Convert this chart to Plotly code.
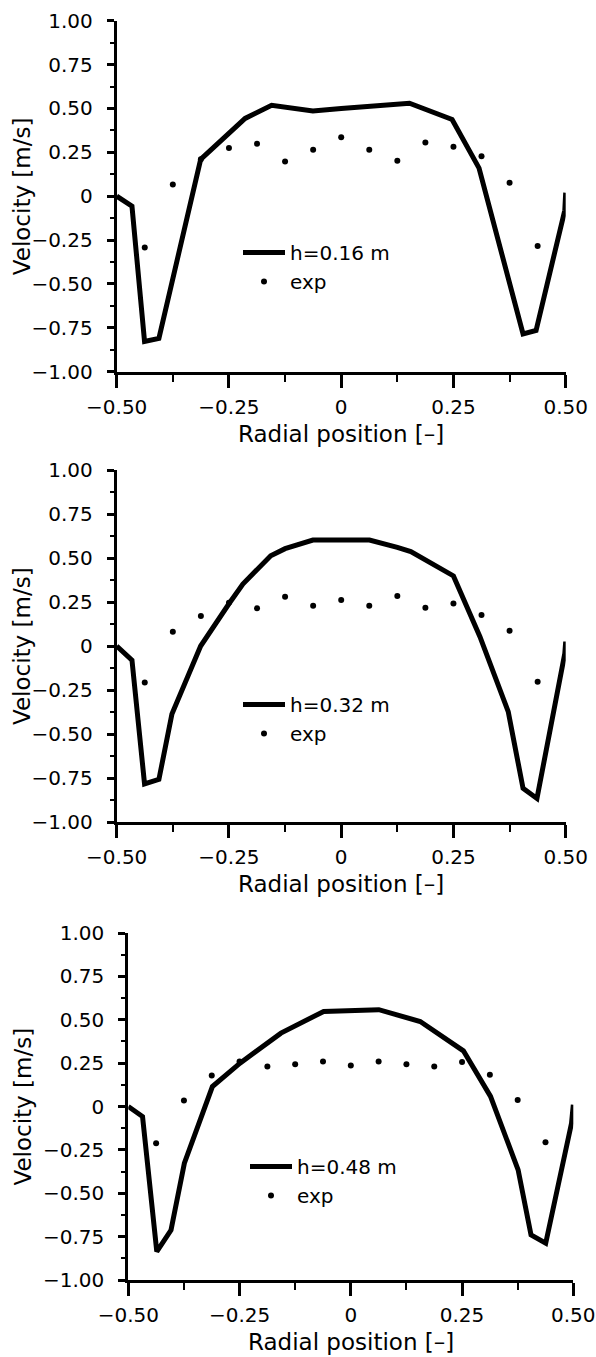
import plotly.graph_objects as go

W, H = 596, 1357

# ---------------- data ----------------
exp_x = [-0.4375, -0.375, -0.3125, -0.25, -0.1875, -0.125, -0.0625, 0.0,
         0.0625, 0.125, 0.1875, 0.25, 0.3125, 0.375, 0.4375]

sim1_x = [-0.5, -0.466, -0.438, -0.406, -0.313, -0.214, -0.155, -0.063, 0.0,
          0.063, 0.152, 0.247, 0.307, 0.405, 0.434, 0.498, 0.5]
sim1_y = [0.0, -0.057, -0.828, -0.81, 0.21, 0.443, 0.518, 0.485, 0.50,
          0.515, 0.53, 0.437, 0.16, -0.785, -0.765, -0.08, 0.02]
exp1_y = [-0.293, 0.066, 0.21, 0.274, 0.299, 0.198, 0.265, 0.336, 0.265,
          0.202, 0.306, 0.282, 0.227, 0.076, -0.284]

sim2_x = [-0.5, -0.466, -0.438, -0.406, -0.377, -0.313, -0.25, -0.219, -0.157,
          -0.125, -0.063, 0.0, 0.063, 0.125, 0.155, 0.25, 0.309, 0.372, 0.405,
          0.436, 0.498, 0.5]
sim2_y = [0.0, -0.08, -0.784, -0.758, -0.386, 0.0, 0.24, 0.352, 0.513,
          0.553, 0.602, 0.602, 0.602, 0.56, 0.536, 0.398, 0.053, -0.373, -0.809,
          -0.866, -0.042, 0.025]
exp2_y = [-0.208, 0.081, 0.170, 0.246, 0.214, 0.280, 0.229, 0.261, 0.229,
          0.284, 0.218, 0.242, 0.176, 0.087, -0.203]

sim3_x = [-0.5, -0.468, -0.436, -0.404, -0.374, -0.311, -0.249, -0.157, -0.061,
          0.063, 0.156, 0.253, 0.314, 0.376, 0.405, 0.438, 0.496, 0.5]
sim3_y = [0.0, -0.058, -0.836, -0.712, -0.327, 0.115, 0.25, 0.423, 0.548,
          0.558, 0.49, 0.321, 0.058, -0.365, -0.74, -0.788, -0.096, 0.01]
exp3_y = [-0.212, 0.035, 0.179, 0.26, 0.231, 0.244, 0.26, 0.237, 0.26,
          0.244, 0.231, 0.256, 0.183, 0.038, -0.206]

sim_names = ["h=0.16 m", "h=0.32 m", "h=0.48 m"]
exp_name = "exp"

x_tickvals = [-0.5, -0.25, 0.0, 0.25, 0.5]
x_ticktext = ["\u22120.50", "\u22120.25", "0", "0.25", "0.50"]
y_tickvals = [-1.0, -0.75, -0.5, -0.25, 0.0, 0.25, 0.5, 0.75, 1.0]
y_ticktext = ["\u22121.00", "\u22120.75", "\u22120.50", "\u22120.25", "0",
              "0.25", "0.50", "0.75", "1.00"]
x_minor = [-0.375, -0.125, 0.125, 0.375]
y_minor = [-0.875, -0.625, -0.375, -0.125, 0.125, 0.375, 0.625, 0.875]

x_title = "Radial position [\u2013]"
y_title = "Velocity [m/s]"

sims = [(sim1_x, sim1_y), (sim2_x, sim2_y), (sim3_x, sim3_y)]
exps = [exp1_y, exp2_y, exp3_y]

# ---------------- layout (pixel geometry) ----------------
# (left, right, top, bottom) of each plot area in px
panels = [(116.7, 565.7, 20.7, 371.7),
          (116.7, 565.7, 470.0, 822.0),
          (128.3, 573.3, 933.0, 1280.0)]
legend_pos = [(238, 233), (238, 685), (245, 1147)]

FONT = "DejaVu Sans"

fig = go.Figure()
annotations = []
layout_axes = {}

for i, ((sx, sy), ey) in enumerate(zip(sims, exps)):
    n = i + 1
    xa = "x" if n == 1 else f"x{n}"
    ya = "y" if n == 1 else f"y{n}"
    lg = "legend" if n == 1 else f"legend{n}"
    fig.add_trace(go.Scatter(x=sx, y=sy, mode="lines", name=sim_names[i],
                             line=dict(color="black", width=5),
                             xaxis=xa, yaxis=ya, legend=lg))
    fig.add_trace(go.Scatter(x=exp_x, y=ey, mode="markers", name=exp_name,
                             marker=dict(color="black", size=6, symbol="circle"),
                             xaxis=xa, yaxis=ya, legend=lg, cliponaxis=False))

    l, r, t, b = panels[i]
    xdom = [l / W, r / W]
    ydom = [1 - b / H, 1 - t / H]
    xkey = "xaxis" if n == 1 else f"xaxis{n}"
    ykey = "yaxis" if n == 1 else f"yaxis{n}"
    layout_axes[xkey] = dict(
        domain=xdom, range=[-0.5, 0.5], anchor=ya, automargin=False,
        showline=True, linewidth=3, linecolor="black",
        ticks="outside", ticklen=13, tickwidth=3, tickcolor="black",
        tickmode="array", tickvals=x_tickvals, ticktext=x_ticktext,
        tickfont=dict(family=FONT, size=20, color="black"),
        ticklabelstandoff=2,
        minor=dict(tickmode="array", tickvals=x_minor, ticks="outside",
                   ticklen=7, tickwidth=2, tickcolor="black", showgrid=False),
        showgrid=False, zeroline=False)
    layout_axes[ykey] = dict(
        domain=ydom, range=[-1, 1], anchor=xa, automargin=False,
        showline=True, linewidth=3, linecolor="black",
        ticks="outside", ticklen=7, tickwidth=3, tickcolor="black",
        tickmode="array", tickvals=y_tickvals, ticktext=y_ticktext,
        tickfont=dict(family=FONT, size=20, color="black"),
        ticklabelstandoff=10,
        minor=dict(tickmode="array", tickvals=y_minor, ticks="outside",
                   ticklen=4, tickwidth=2, tickcolor="black", showgrid=False),
        showgrid=False, zeroline=False)

    lx, ly = legend_pos[i]
    layout_axes[lg] = dict(x=lx / W, y=1 - ly / H, xanchor="left", yanchor="top",
                           bgcolor="rgba(0,0,0,0)", borderwidth=0,
                           itemwidth=42,
                           font=dict(family=FONT, size=20, color="black"))

    annotations.append(dict(text=x_title, xref="paper", yref="paper",
                            x=(l + r) / 2 / W, y=1 - (b + 62) / H,
                            xanchor="center", yanchor="middle", showarrow=False,
                            font=dict(family=FONT, size=23, color="black")))
    annotations.append(dict(text=y_title, xref="paper", yref="paper",
                            x=22 / W, y=1 - (t + b) / 2 / H, textangle=-90,
                            xanchor="center", yanchor="middle", showarrow=False,
                            font=dict(family=FONT, size=23, color="black")))

fig.update_layout(
    width=W, height=H,
    margin=dict(l=0, r=0, t=0, b=0, autoexpand=False),
    paper_bgcolor="white", plot_bgcolor="white",
    font=dict(family=FONT, color="black"),
    showlegend=True,
    annotations=annotations,
    **layout_axes)

fig.write_html("out.html")
